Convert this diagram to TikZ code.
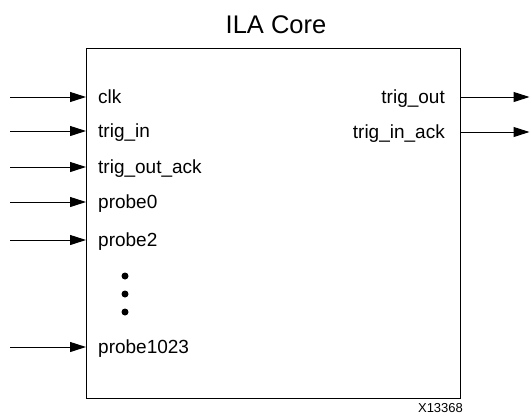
\documentclass[tikz,border=0pt]{standalone}
\usepackage{fontspec}
\setmainfont{Liberation Sans}
\usetikzlibrary{arrows.meta}
\begin{document}
\begin{tikzpicture}[x=1pt,y=-1pt,
  lbl/.style={font=\fontsize{19}{22}\selectfont,inner sep=0},
  sig/.style={-{Triangle[length=16pt,width=10pt]},line width=1pt},
  dot/.style={fill=black,shape=circle,inner sep=0,minimum size=7pt}]
\useasboundingbox (0,0) rectangle (530,416);
%core
\node[draw,line width=1.3pt,minimum width=374pt,minimum height=350pt,inner sep=0,anchor=north west] (core) at (86,48) {};
\node[font=\fontsize{25.5}{30}\selectfont,inner sep=0,anchor=base] (title) at (276,33) {ILA Core};
%inputs
\foreach \y/\name/\txt in {97/clk/clk,131/trigin/trig\_in,167/trigoutack/trig\_out\_ack,
  202/probezero/probe0,240/probetwo/probe2,347/probelast/probe1023}{
  \coordinate (\name src) at (10,\y);
  \node[lbl,anchor=base west] (\name) at (98,\y+6) {\txt};
  \draw[sig] (\name src) -- (core.west |- \name src);
}
%outputs
\foreach \y/\name/\txt in {97/trigout/trig\_out,132/triginack/trig\_in\_ack}{
  \coordinate (\name dst) at (529.5,\y);
  \node[lbl,anchor=base east] (\name) at (445,\y+6) {\txt};
  \draw[sig] (core.east |- \name dst) -- (\name dst);
}
%dots
\node[dot] (dota) at (125,276) {};
\node[dot] (dotb) at (125,294) {};
\node[dot] (dotc) at (125,312) {};
%labels
\node[font=\fontsize{13}{15}\selectfont,inner sep=0,anchor=base] (fig) at (440.5,412) {X13368};
\end{tikzpicture}
\end{document}
